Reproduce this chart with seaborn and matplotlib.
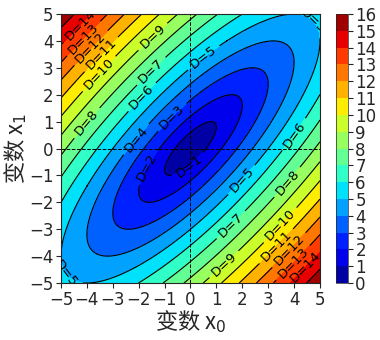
import numpy as np
import matplotlib
matplotlib.use("Agg")
import matplotlib.pyplot as plt
import seaborn as sns

# Distribution parameters
mean = [0.0, 0.0]
cov = [[1.0, 0.8],
       [0.8, 1.0]]
levels = list(range(0, 17))
cbar_ticks = list(range(0, 17))
axis_ticks = [-5, -4, -3, -2, -1, 0, 1, 2, 3, 4, 5]

# Where the contour labels sit
label_spots = [
    (-4.38, 4.70), (-4.34, 4.29), (-3.96, 3.85), (-3.50, 3.55), (-3.60, 2.84),
    (-1.45, 4.15), (-1.56, 2.92), (-1.95, 1.99), (-4.00, 0.95), (-0.79, 1.25),
    (-2.20, 0.43), (-1.83, -0.61), (0.00, -0.72), (0.48, 3.40), (1.90, -1.10),
    (4.03, 0.50), (-4.77, -4.63), (4.80, 4.85),
    (3.77, -1.28), (1.45, -2.73), (3.38, -2.77), (3.15, -3.48), (3.72, -3.70),
    (3.84, -4.14), (4.42, -4.40), (1.25, -4.26),
]

sns.set_style("ticks")
plt.rcParams['font.family'] = ['DejaVu Sans', 'Noto Sans CJK SC']

# Mahalanobis distance on a grid
xs = np.linspace(-5, 5, 401)
ys = np.linspace(-5, 5, 401)
X0, X1 = np.meshgrid(xs, ys)
inv = np.linalg.inv(np.array(cov))
d0 = X0 - mean[0]
d1 = X1 - mean[1]
D = np.sqrt(inv[0, 0] * d0 ** 2 + (inv[0, 1] + inv[1, 0]) * d0 * d1 + inv[1, 1] * d1 ** 2)

fig = plt.figure(figsize=(3.8, 3.4), dpi=100)
ax = fig.add_axes([0.1605, 0.1676, 0.6816, 0.7912])
cax = fig.add_axes([0.884, 0.1676, 0.031, 0.7912])

cf = ax.contourf(X0, X1, D, levels=levels, cmap="jet")
cs = ax.contour(X0, X1, D, levels=levels[1:-1], colors="black", linewidths=0.8)
ax.clabel(cs, fmt="D=%d", fontsize=9.5, inline=True, manual=label_spots)

ax.axhline(0, color="black", linestyle="--", linewidth=0.7)
ax.axvline(0, color="black", linestyle="--", linewidth=0.7)

ax.set_xlim(-5, 5)
ax.set_ylim(-5, 5)
ax.set_xticks(axis_ticks)
ax.set_yticks(axis_ticks)
ax.tick_params(labelsize=12, pad=2)
ax.set_xlabel("变数 x$_0$", fontsize=16, labelpad=0,
              family=['Noto Sans CJK SC', 'DejaVu Sans'])
ax.set_ylabel("变数 x$_1$", fontsize=16, labelpad=0,
              family=['Noto Sans CJK SC', 'DejaVu Sans'])

cb = fig.colorbar(cf, cax=cax, ticks=cbar_ticks)
cb.ax.tick_params(labelsize=12, pad=2)
cb.outline.set_linewidth(0.5)

fig.savefig("out.png", dpi=100)
